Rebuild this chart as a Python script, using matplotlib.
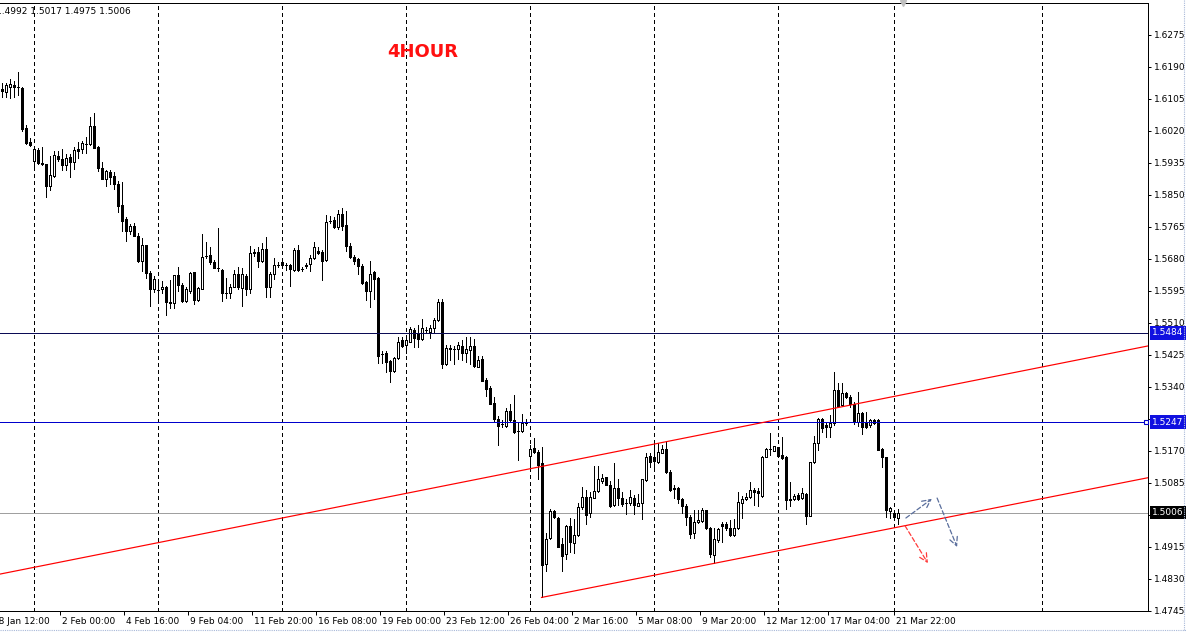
import numpy as np
import matplotlib
matplotlib.use("Agg")
import matplotlib.pyplot as plt
from matplotlib import transforms
from matplotlib.lines import Line2D

# 4H candles (oldest first)
opens = [1.6132, 1.6124, 1.6138, 1.6142, 1.6137, 1.6134, 1.6027, 1.5991, 1.5941, 1.5969,
         1.5935, 1.5932, 1.5875, 1.5901, 1.5953, 1.5946, 1.5930, 1.5950, 1.5938, 1.5972,
         1.5971, 1.5986, 1.5985, 1.6033, 1.5977, 1.5923, 1.5893, 1.5911, 1.5900, 1.5879,
         1.5823, 1.5786, 1.5755, 1.5768, 1.5741, 1.5675, 1.5717, 1.5644, 1.5600, 1.5598,
         1.5599, 1.5606, 1.5567, 1.5562, 1.5637, 1.5610, 1.5569, 1.5596, 1.5645, 1.5571,
         1.5601, 1.5687, 1.5691, 1.5671, 1.5657, 1.5650, 1.5590, 1.5589, 1.5606, 1.5640,
         1.5604, 1.5636, 1.5601, 1.5699, 1.5698, 1.5675, 1.5706, 1.5606, 1.5639, 1.5664,
         1.5671, 1.5664, 1.5664, 1.5651, 1.5704, 1.5654, 1.5662, 1.5667, 1.5682, 1.5702,
         1.5698, 1.5677, 1.5781, 1.5784, 1.5766, 1.5800, 1.5771, 1.5714, 1.5684, 1.5680,
         1.5661, 1.5618, 1.5596, 1.5646, 1.5629, 1.5428, 1.5429, 1.5409, 1.5383, 1.5416,
         1.5465, 1.5452, 1.5460, 1.5491, 1.5483, 1.5467, 1.5491, 1.5487, 1.5496, 1.5518,
         1.5565, 1.5400, 1.5443, 1.5442, 1.5440, 1.5449, 1.5431, 1.5438, 1.5449, 1.5394,
         1.5414, 1.5359, 1.5337, 1.5297, 1.5255, 1.5242, 1.5237, 1.5276, 1.5252, 1.5224,
         1.5224, 1.5245, 1.5157, 1.5177, 1.5168, 1.5137, 1.4869, 1.4938, 1.5011, 1.4992,
         1.4922, 1.4896, 1.4971, 1.4926, 1.4947, 1.5020, 1.5049, 1.5004, 1.5046, 1.5064,
         1.5091, 1.5100, 1.5080, 1.5026, 1.5071, 1.5044, 1.5031, 1.5033, 1.5044, 1.5024,
         1.5033, 1.5093, 1.5157, 1.5153, 1.5142, 1.5165, 1.5175, 1.5115, 1.5071, 1.5071,
         1.5042, 1.5025, 1.4996, 1.4951, 1.4981, 1.4985, 1.5013, 1.4965, 1.4894, 1.4934,
         1.4976, 1.4976, 1.4965, 1.4947, 1.4965, 1.5033, 1.5042, 1.5047, 1.5066, 1.5064,
         1.5051, 1.5155, 1.5175, 1.5171, 1.5180, 1.5160, 1.5155, 1.5042, 1.5042, 1.5052,
         1.5044, 1.5056, 1.4998, 1.5140, 1.5190, 1.5254, 1.5239, 1.5235, 1.5244, 1.5332,
         1.5292, 1.5325, 1.5314, 1.5296, 1.5248, 1.5272, 1.5248, 1.5239, 1.5252, 1.5252,
         1.5175, 1.5154, 1.5011, 1.5004, 1.4992]
highs = [1.6147, 1.6147, 1.6158, 1.6153, 1.6176, 1.6136, 1.6036, 1.6001, 1.5978, 1.5976,
         1.5977, 1.5932, 1.5954, 1.5968, 1.5967, 1.5971, 1.5959, 1.5959, 1.5978, 1.5992,
         1.5993, 1.6003, 1.6056, 1.6067, 1.5980, 1.5937, 1.5916, 1.5916, 1.5910, 1.5886,
         1.5884, 1.5792, 1.5773, 1.5775, 1.5748, 1.5737, 1.5717, 1.5649, 1.5636, 1.5622,
         1.5622, 1.5608, 1.5624, 1.5638, 1.5658, 1.5615, 1.5606, 1.5646, 1.5646, 1.5606,
         1.5746, 1.5724, 1.5713, 1.5677, 1.5762, 1.5653, 1.5629, 1.5613, 1.5651, 1.5658,
         1.5655, 1.5639, 1.5714, 1.5706, 1.5711, 1.5722, 1.5738, 1.5645, 1.5682, 1.5671,
         1.5680, 1.5669, 1.5667, 1.5710, 1.5718, 1.5658, 1.5670, 1.5691, 1.5726, 1.5713,
         1.5704, 1.5797, 1.5794, 1.5792, 1.5810, 1.5816, 1.5808, 1.5723, 1.5691, 1.5682,
         1.5667, 1.5622, 1.5675, 1.5649, 1.5631, 1.5436, 1.5435, 1.5412, 1.5420, 1.5474,
         1.5474, 1.5469, 1.5500, 1.5496, 1.5505, 1.5521, 1.5500, 1.5505, 1.5522, 1.5574,
         1.5574, 1.5452, 1.5452, 1.5449, 1.5460, 1.5465, 1.5474, 1.5474, 1.5467, 1.5423,
         1.5423, 1.5363, 1.5342, 1.5313, 1.5262, 1.5252, 1.5284, 1.5295, 1.5319, 1.5245,
         1.5268, 1.5254, 1.5186, 1.5204, 1.5173, 1.5180, 1.4952, 1.5015, 1.5012, 1.4995,
         1.4940, 1.4973, 1.4991, 1.4990, 1.5031, 1.5075, 1.5066, 1.5062, 1.5130, 1.5129,
         1.5109, 1.5101, 1.5089, 1.5137, 1.5095, 1.5062, 1.5042, 1.5066, 1.5053, 1.5056,
         1.5095, 1.5165, 1.5165, 1.5194, 1.5190, 1.5186, 1.5197, 1.5120, 1.5080, 1.5075,
         1.5044, 1.5029, 1.5000, 1.5013, 1.5013, 1.5018, 1.5013, 1.4969, 1.4965, 1.4965,
         1.4982, 1.4982, 1.4987, 1.4989, 1.5062, 1.5051, 1.5059, 1.5088, 1.5072, 1.5071,
         1.5157, 1.5177, 1.5218, 1.5184, 1.5181, 1.5206, 1.5157, 1.5087, 1.5056, 1.5059,
         1.5071, 1.5059, 1.5141, 1.5210, 1.5257, 1.5257, 1.5245, 1.5266, 1.5381, 1.5350,
         1.5350, 1.5328, 1.5318, 1.5301, 1.5328, 1.5274, 1.5274, 1.5254, 1.5254, 1.5254,
         1.5177, 1.5155, 1.5022, 1.5006, 1.5017]
lows = [1.6110, 1.6110, 1.6108, 1.6109, 1.6115, 1.6021, 1.5985, 1.5981, 1.5927, 1.5932,
        1.5929, 1.5845, 1.5863, 1.5899, 1.5940, 1.5916, 1.5916, 1.5899, 1.5918, 1.5949,
        1.5962, 1.5962, 1.5983, 1.5975, 1.5914, 1.5892, 1.5875, 1.5878, 1.5866, 1.5804,
        1.5755, 1.5729, 1.5746, 1.5740, 1.5673, 1.5648, 1.5629, 1.5556, 1.5593, 1.5573,
        1.5589, 1.5531, 1.5549, 1.5549, 1.5595, 1.5565, 1.5567, 1.5591, 1.5560, 1.5569,
        1.5599, 1.5682, 1.5666, 1.5655, 1.5649, 1.5569, 1.5577, 1.5576, 1.5605, 1.5601,
        1.5556, 1.5584, 1.5589, 1.5688, 1.5659, 1.5673, 1.5580, 1.5578, 1.5626, 1.5659,
        1.5655, 1.5651, 1.5609, 1.5649, 1.5649, 1.5649, 1.5655, 1.5649, 1.5679, 1.5692,
        1.5624, 1.5675, 1.5775, 1.5762, 1.5759, 1.5757, 1.5702, 1.5682, 1.5667, 1.5640,
        1.5614, 1.5571, 1.5553, 1.5573, 1.5404, 1.5404, 1.5379, 1.5354, 1.5381, 1.5414,
        1.5447, 1.5429, 1.5459, 1.5447, 1.5447, 1.5465, 1.5487, 1.5469, 1.5484, 1.5516,
        1.5391, 1.5398, 1.5412, 1.5401, 1.5415, 1.5413, 1.5407, 1.5401, 1.5393, 1.5393,
        1.5356, 1.5316, 1.5294, 1.5251, 1.5186, 1.5233, 1.5235, 1.5251, 1.5218, 1.5146,
        1.5221, 1.5239, 1.5128, 1.5164, 1.5095, 1.4781, 1.4850, 1.4936, 1.4992, 1.4914,
        1.4852, 1.4882, 1.4903, 1.4900, 1.4945, 1.5017, 1.4976, 1.4995, 1.5044, 1.5062,
        1.5085, 1.5079, 1.5020, 1.5024, 1.5026, 1.5024, 1.5003, 1.5027, 1.5003, 1.5024,
        1.4990, 1.5091, 1.5127, 1.5124, 1.5137, 1.5164, 1.5111, 1.5064, 1.5044, 1.5031,
        1.5006, 1.4973, 1.4938, 1.4938, 1.4978, 1.4982, 1.4964, 1.4889, 1.4872, 1.4929,
        1.4929, 1.4960, 1.4945, 1.4945, 1.4963, 1.4991, 1.5040, 1.5044, 1.5026, 1.5025,
        1.5049, 1.5155, 1.5160, 1.5170, 1.5155, 1.5149, 1.5016, 1.5025, 1.5040, 1.5040,
        1.5042, 1.4976, 1.4997, 1.5137, 1.5173, 1.5221, 1.5207, 1.5207, 1.5239, 1.5288,
        1.5290, 1.5310, 1.5288, 1.5243, 1.5236, 1.5215, 1.5230, 1.5235, 1.5243, 1.5172,
        1.5127, 1.4995, 1.4991, 1.4987, 1.4975]
closes = [1.6126, 1.6142, 1.6145, 1.6138, 1.6136, 1.6026, 1.5987, 1.5984, 1.5971, 1.5934,
          1.5932, 1.5875, 1.5902, 1.5955, 1.5946, 1.5931, 1.5947, 1.5938, 1.5969, 1.5967,
          1.5987, 1.5985, 1.6033, 1.5976, 1.5922, 1.5893, 1.5914, 1.5899, 1.5878, 1.5821,
          1.5782, 1.5755, 1.5767, 1.5742, 1.5675, 1.5717, 1.5642, 1.5600, 1.5627, 1.5597,
          1.5606, 1.5565, 1.5562, 1.5637, 1.5611, 1.5569, 1.5601, 1.5644, 1.5571, 1.5602,
          1.5685, 1.5688, 1.5671, 1.5657, 1.5656, 1.5589, 1.5589, 1.5605, 1.5640, 1.5605,
          1.5639, 1.5601, 1.5695, 1.5695, 1.5675, 1.5706, 1.5606, 1.5639, 1.5663, 1.5665,
          1.5664, 1.5663, 1.5653, 1.5704, 1.5651, 1.5653, 1.5663, 1.5682, 1.5711, 1.5695,
          1.5675, 1.5779, 1.5782, 1.5766, 1.5800, 1.5768, 1.5714, 1.5684, 1.5675, 1.5661,
          1.5617, 1.5596, 1.5640, 1.5627, 1.5423, 1.5427, 1.5407, 1.5383, 1.5418, 1.5460,
          1.5449, 1.5465, 1.5493, 1.5469, 1.5467, 1.5496, 1.5492, 1.5496, 1.5518, 1.5565,
          1.5401, 1.5443, 1.5442, 1.5441, 1.5451, 1.5431, 1.5440, 1.5449, 1.5396, 1.5412,
          1.5357, 1.5336, 1.5295, 1.5255, 1.5237, 1.5241, 1.5276, 1.5252, 1.5221, 1.5223,
          1.5245, 1.5246, 1.5175, 1.5168, 1.5133, 1.4867, 1.4936, 1.5011, 1.4994, 1.4916,
          1.4891, 1.4971, 1.4929, 1.4947, 1.5020, 1.5049, 1.5000, 1.5047, 1.5064, 1.5095,
          1.5097, 1.5080, 1.5024, 1.5071, 1.5044, 1.5029, 1.5031, 1.5047, 1.5027, 1.5033,
          1.5095, 1.5153, 1.5142, 1.5143, 1.5167, 1.5175, 1.5115, 1.5066, 1.5070, 1.5042,
          1.5024, 1.4994, 1.4949, 1.4982, 1.4987, 1.5013, 1.4965, 1.4896, 1.4936, 1.4962,
          1.4971, 1.4965, 1.4947, 1.4965, 1.5034, 1.5042, 1.5049, 1.5066, 1.5062, 1.5058,
          1.5155, 1.5175, 1.5174, 1.5183, 1.5157, 1.5151, 1.5040, 1.5041, 1.5051, 1.5042,
          1.5059, 1.4998, 1.5140, 1.5190, 1.5254, 1.5230, 1.5235, 1.5244, 1.5332, 1.5290,
          1.5325, 1.5313, 1.5296, 1.5246, 1.5272, 1.5235, 1.5235, 1.5252, 1.5245, 1.5173,
          1.5154, 1.5013, 1.5018, 1.4994, 1.5006]

# axis stuff (x is in bars)
week_lines = [8, 39, 70, 101, 132, 163, 194, 223, 260]
time_ticks = [-2.8, 14.5, 30.5, 46.5, 62.5, 78.5, 94.5, 110.5, 126.5, 142.5,
              158.5, 174.5, 190.5, 206.5, 223]
time_labels = ["28 Jan 12:00", "2 Feb 00:00", "4 Feb 16:00", "9 Feb 04:00", "11 Feb 20:00",
               "16 Feb 08:00", "19 Feb 00:00", "23 Feb 12:00", "26 Feb 04:00", "2 Mar 16:00",
               "5 Mar 08:00", "9 Mar 20:00", "12 Mar 12:00", "17 Mar 04:00", "21 Mar 22:00"]
price_ticks = [1.4745, 1.4830, 1.4915, 1.5000, 1.5085, 1.5170, 1.5255, 1.5340, 1.5425,
               1.5510, 1.5595, 1.5680, 1.5765, 1.5850, 1.5935, 1.6020, 1.6105, 1.6190, 1.6275]

resistance = 1.5484
support = 1.5247
bid = 1.5006
last_ohlc = "1.4992 1.5017 1.4975 1.5006"

# channel lines: bars, prices
upper_x, upper_y = [-0.4, 286.6], [1.4843, 1.5449]
lower_x, lower_y = [135, 286.6], [1.4781, 1.5099]

# projection arrows: (x0, y0, x1, y1, colour)
arrows = [(226.1, 1.4992, 232.6, 1.5043, "#5a6e9c"),
          (233.9, 1.5045, 238.9, 1.4915, "#5a6e9c"),
          (225.9, 1.4971, 231.6, 1.4872, "#ff3b3b")]

W, H = 1186, 633
fig = plt.figure(figsize=(W / 100, H / 100), dpi=100)
fig.patch.set_facecolor("white")
ax = fig.add_axes([0, (H - 611) / H, 1148 / W, 608 / H])
ax.set_xlim(-0.375, 286.625)
ax.set_ylim(1.4745, 1.6360)

px = 0.72  # one pixel in points

# week separators (dash lengths get scaled by lw, so these are ~4px on / 3px off)
for wx in week_lines:
    ax.axvline(wx, color="black", lw=px, ls=(0, (4, 3)), zorder=1, antialiased=False)

x = np.arange(len(closes))
o = np.array(opens)
c = np.array(closes)
ax.vlines(x, lows, highs, color="black", lw=px, zorder=3, antialiased=False)
up = c >= o
ax.bar(x, np.abs(c - o), bottom=np.minimum(o, c), width=0.5,
       color=np.where(up, "white", "black"), edgecolor="black", lw=px, zorder=4,
       antialiased=False)

# objects
ax.axhline(resistance, color="#0b0b55", lw=px, zorder=5, antialiased=False)
ax.axhline(support, color="#0000cc", lw=px, zorder=5, antialiased=False)
ax.axhline(bid, color="#a0a0a0", lw=px, ls=(0, (1, 1)), zorder=2, antialiased=False)
ax.plot(upper_x, upper_y, color="#ff0000", lw=px * 1.2, zorder=5)
ax.plot(lower_x, lower_y, color="#ff0000", lw=px * 1.2, zorder=5)
ax.plot([286], [support], marker="s", ms=3.2, mfc="white", mec="#0000cc", mew=0.8,
        zorder=6, clip_on=False)

for x0, y0, x1, y1, col in arrows:
    ax.annotate("", xy=(x1, y1), xytext=(x0, y0),
                arrowprops=dict(arrowstyle="->,head_length=0.6,head_width=0.3",
                                color=col, lw=0.9, ls=(0, (3.5, 2)),
                                shrinkA=0, shrinkB=0), zorder=6)

# shift marker at the top
ax.plot([225.4], [1.6360], marker="v", ms=5, color="#c0c0c0", clip_on=False, zorder=7)

# frame
for side in ["top", "right", "bottom"]:
    ax.spines[side].set_color("black")
    ax.spines[side].set_linewidth(px)
ax.spines["left"].set_visible(False)

# y axis on the right
ax.yaxis.tick_right()
ax.set_yticks(price_ticks)
ax.set_yticklabels([f"{p:.4f}" for p in price_ticks])
ax.tick_params(axis="y", direction="out", length=2.5, width=px, pad=1.5,
               labelsize=6.5, colors="black")

# x axis ticks, labels drawn as text to the right of each tick
ax.set_xticks(time_ticks[1:])
ax.set_xticklabels([])
ax.tick_params(axis="x", direction="out", length=3, width=px)
lab_trans = transforms.offset_copy(ax.get_xaxis_transform(), fig=fig, x=3, y=-10, units="dots")
for tx, tl in zip(time_ticks, time_labels):
    ax.text(tx, 0, tl, transform=lab_trans, ha="left", va="center", fontsize=6.5,
            clip_on=False)

# price boxes on the axis
box_trans = transforms.offset_copy(ax.get_yaxis_transform(), fig=fig, x=4, y=0, units="dots")
for val, bg in [(resistance, "#1010e0"), (support, "#1010e0"), (bid, "black")]:
    ax.text(1.0, val, f"{val:.4f}", transform=box_trans, ha="left", va="center",
            fontsize=6.5, color="white", zorder=10, clip_on=False,
            bbox=dict(boxstyle="square,pad=0.25", fc=bg, ec="none"))

fig.text(-4 / W, 1 - 11 / H, last_ohlc, fontsize=6.5, va="center", ha="left")
fig.text(423 / W, 1 - 52 / H, "4HOUR", color="#ff1010", fontsize=13, weight="bold",
         ha="center", va="center")

# window border
fig.add_artist(Line2D([0, 1], [1 - 630 / H] * 2, transform=fig.transFigure,
                      color="#a8b8d8", lw=0.8, ls=(0, (1, 1))))
fig.add_artist(Line2D([1184 / W] * 2, [1 - 630 / H, 1], transform=fig.transFigure,
                      color="#a8b8d8", lw=0.8, ls=(0, (1, 1))))

fig.savefig("out.png", dpi=100, facecolor="white")
